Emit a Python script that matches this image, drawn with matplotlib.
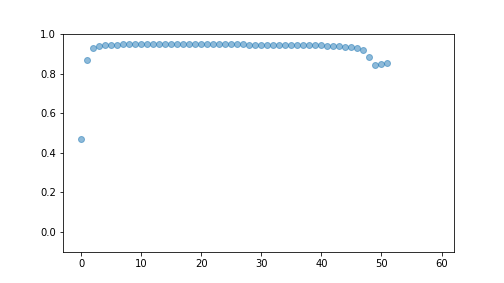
import matplotlib
matplotlib.use("Agg")
from matplotlib import pyplot as plt

# step index and score
steps = list(range(52))
scores = [
    0.471, 0.870, 0.929, 0.941, 0.946, 0.946, 0.944, 0.949, 0.949, 0.949,
    0.949, 0.949, 0.949, 0.949, 0.949, 0.949, 0.949, 0.949, 0.949, 0.949,
    0.949, 0.949, 0.949, 0.949, 0.949, 0.949, 0.949, 0.949, 0.944, 0.944,
    0.944, 0.944, 0.944, 0.944, 0.944, 0.944, 0.944, 0.944, 0.944, 0.944,
    0.944, 0.939, 0.939, 0.939, 0.934, 0.934, 0.929, 0.919, 0.884, 0.843,
    0.848, 0.854,
]

fig, ax = plt.subplots(figsize=(7, 283 / 72), dpi=72)
ax.scatter(steps, scores, alpha=0.5)
ax.set_xlim(-3, 62)
ax.set_ylim(-0.1, 1.0)
fig.savefig("out.png", dpi=72)
